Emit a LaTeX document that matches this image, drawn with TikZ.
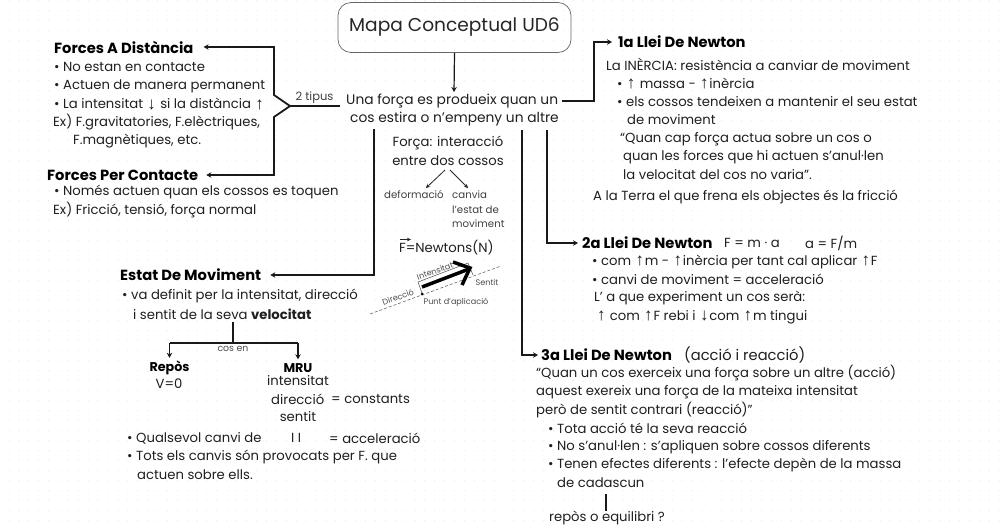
\documentclass[tikz,border=0pt]{standalone}
\usepackage{fontspec}
\setmainfont{Poppins}
\newfontfamily\arrowfont{Liberation Sans}
\usetikzlibrary{arrows.meta}
\newcommand{\up}{\kern0.8pt\smash{\raisebox{-0.5pt}{\arrowfont\fontsize{17}{15}\selectfont\char"2191}}\kern0.8pt}
\newcommand{\dn}{\kern0.8pt\smash{\raisebox{-0.5pt}{\arrowfont\fontsize{17}{15}\selectfont\char"2193}}\kern0.8pt}
\tikzset{
 txt/.style={anchor=west,inner sep=0pt,font=\fontsize{13.2}{15}\selectfont,text=black!88},
 ctr/.style={anchor=west,inner sep=0pt,font=\fontsize{13.8}{16}\selectfont,text=black!88},
 head/.style={anchor=west,inner sep=0pt,font=\fontsize{14.7}{17}\selectfont\bfseries,text=black},
 small/.style={anchor=west,inner sep=0pt,font=\fontsize{10.2}{12}\selectfont,text=black!75},
 tiny/.style={inner sep=0pt,font=\fontsize{8.1}{10}\selectfont,text=black!70},
 link/.style={draw=black!90,line width=1.5pt},
 arr/.style={link,-{Stealth[length=5pt,width=5.5pt]}},
}
\begin{document}
\begin{tikzpicture}[x=1pt,y=-1pt]
\useasboundingbox (0,0) rectangle (1000,525);
\fill[white] (0,0) rectangle (1000,525);
\foreach \i in {0,...,100}{\foreach \j in {0,...,52}{
 \fill[black!7] (\i*9.9+9,\j*10+0.7) circle (0.7pt);}}
% title
\node[draw=black!60,line width=0.7pt,rounded corners=13pt,minimum width=233pt,minimum height=50pt,font=\fontsize{18.6}{22}\selectfont,text=black!85,inner sep=0pt] (title) at (454.5,27.5) {Mapa Conceptual UD6};
% central
\node[ctr] (c1) at (346,101) {Una força es produeix quan un};
\node[ctr] (c2) at (350,119) {cos estira o n’empeny un altre};
\coordinate (t1) at (454,92);
\draw[arr,line width=1.2pt] (title.south) -- (t1);
% left
\node[head] (fd) at (54,47) {Forces A Distància};
\node[txt] (a1) at (54,67) {• No estan en contacte};
\node[txt] (a2) at (54,86) {• Actuen de manera permanent};
\node[txt,text height=9pt,text depth=3pt] (a3) at (54,105.5) {• La intensitat \dn{} si la distància \up};
\node[txt] (a4) at (53,122) {Ex) F.gravitatories, F.elèctriques,};
\node[txt] (a5) at (73,141) {F.magnètiques, etc.};
\node[head] (fc) at (47,175) {Forces Per Contacte};
\node[txt] (b1) at (54,192) {• Només actuen quan els cossos es toquen};
\node[txt] (b2) at (53,210) {Ex) Fricció, tensió, força normal};
\coordinate (fork) at (290,106);
\coordinate (ftop) at (274,95);
\coordinate (fbot) at (274,117);
\node[small,anchor=south,font=\fontsize{11.5}{13}\selectfont] (tip) at (314.5,103.5) {2 tipus};
\draw[link,line width=1.8pt] (c1.west |- fork) ++(-6,0) -- (fork);
\draw[arr,line width=1.8pt,shorten >=10pt] (fork) -- (ftop) -- (ftop |- fd.east) -- (fd.east);
\draw[arr,line width=1.8pt,shorten >=8pt] (fork) -- (fbot) -- (fbot |- fc.east) -- (fc.east);
% right 1
\node[head] (l1) at (618,42) {1a Llei De Newton};
\coordinate (r1) at (594,101);
\draw[arr,shorten <=4pt,shorten >=6pt] (c1.east) -- (c1.east -| r1) -- (r1 |- l1.west) -- (l1.west);
\node[txt] (n1) at (606,64) {La INÈRCIA: resistència a canviar de moviment};
\node[txt,text height=9pt,text depth=3pt] (n2) at (617,85) {• \up{} massa - \up{}inèrcia};
\node[txt] (n3) at (617,102) {• els cossos tendeixen a mantenir el seu estat};
\node[txt] (n4) at (627,120) {de moviment};
\node[txt] (n5) at (620,139) {“Quan cap força actua sobre un cos o};
\node[txt] (n6) at (623,157) {quan les forces que hi actuen s’anul·len};
\node[txt] (n7) at (623,175) {la velocitat del cos no varia”.};
\node[txt] (n8) at (593,197) {A la Terra el que frena els objectes és la fricció};
% middle
\node[txt,anchor=center] (m1) at (448,143) {Força: interacció};
\node[txt,anchor=center] (m2) at (448,161) {entre dos cossos};
\node[small] (def) at (384,195) {deformació};
\node[small] (can) at (452,195) {canvia};
\node[small] (can2) at (452,210) {l’estat de};
\node[small] (can3) at (452,224) {moviment};
\coordinate (fa) at (445,170);
\coordinate (fb) at (450,170);
\coordinate (fa2) at (426,188);
\coordinate (fb2) at (468,188);
\draw[black!85,line width=0.8pt,-{Stealth[length=4pt,width=4pt]}] (fa) -- (fa2);
\draw[black!85,line width=0.8pt,-{Stealth[length=4pt,width=4pt]}] (fb) -- (fb2);
\node[txt] (nw) at (399,248) {F=Newtons(N)};
\coordinate (v0) at (400,239.5);
\coordinate (v1) at (411,239.5);
\draw[black!85,line width=0.6pt,-{Stealth[length=4pt,width=3.5pt]}] (v0) -- (v1);
% force diagram
\draw[black!60,densely dashed,line width=0.6pt] (370,314) -- (501,266);
\draw[black!70,line width=0.5pt] (422,293) -- (418,282) -- (468,263) -- (473,275);
\draw[black,line width=3.5pt] (422,287) -- (469,269);
\draw[black,line width=3.5pt] (453,262) -- (470,268) -- (462,285);
\fill (422,294) circle (1.5pt);
\node[tiny,rotate=20] (dia1) at (435,271) {Intensitat};
\node[tiny,rotate=20] (dia2) at (398,297) {Direcció};
\node[tiny] (dia3) at (487,282) {Sentit};
\node[tiny] (dia4) at (456,302) {Punt d’aplicació};
% stat
\node[head] (em) at (120,275) {Estat De Moviment};
\coordinate (r0) at (374,129);
\draw[arr,shorten >=9pt] (r0) -- (r0 |- em.east) -- (em.east);
\node[txt] (e1) at (122,296) {• va definit per la intensitat, direcció};
\node[txt] (e2) at (133,314) {i sentit de la seva \textbf{velocitat}};
\node[head,anchor=center,font=\fontsize{12.7}{14}\selectfont\bfseries] (rep) at (169.5,368) {Repòs};
\node[txt,anchor=center] (rep2) at (169,384) {V=0};
\node[head,anchor=center,font=\fontsize{12.7}{14}\selectfont\bfseries] (mru) at (298,368) {MRU};
\coordinate (s0) at (233,322);
\coordinate (s1) at (233,343);
\draw[link] (s0) -- (s1);
\draw[arr,line width=1.3pt,shorten >=3pt] (rep.north |- 0,343) -- (rep.north);
\draw[arr,line width=1.3pt,shorten >=4pt] (mru.north |- 0,343) -- (mru.north);
\draw[link,line width=1.3pt] (rep.north |- 0,343) -- (mru.north |- 0,343);
\node[tiny,font=\fontsize{9.4}{11}\selectfont] (cs) at (233,349) {cos en};
\node[txt,anchor=center] (m3) at (298,381) {intensitat};
\node[txt] (m4) at (271,399) {direcció};
\node[txt] (m5) at (331,399) {= constants};
\node[txt,anchor=center] (m6) at (298,417) {sentit};
\node[txt] (q1) at (127,438) {• Qualsevol canvi de};
\node[txt] (q2) at (291,438) {I I};
\node[txt] (q3) at (329,438) {= acceleració};
\node[txt] (q4) at (127,457) {• Tots els canvis són provocats per F. que};
\node[txt] (q5) at (137,475) {actuen sobre ells.};
% right 2
\node[head] (l2) at (582,243) {2a Llei De Newton};
\coordinate (r2) at (547,130);
\draw[arr,shorten >=4pt] (r2) -- (r2 |- l2.west) -- (l2.west);
\node[txt] (f1) at (724,243) {F = m · a};
\node[txt] (f2) at (805,243) {a = F/m};
\node[txt,text height=9pt,text depth=3pt] (o1) at (592,262) {• com \up{}m - \up{}inèrcia per tant cal aplicar \up{}F};
\node[txt] (o2) at (592,279) {• canvi de moviment = acceleració};
\node[txt] (o3) at (594,298) {L’ a que experiment un cos serà:};
\node[txt,text height=9pt,text depth=3pt] (o4) at (596,317) {\up{} com \up{}F rebi i \dn{}com \up{}m tingui};
% right 3
\node[head] (l3) at (541,355) {3a Llei De Newton};
\coordinate (r3) at (522,130);
\draw[arr,shorten >=3pt] (r3) -- (r3 |- l3.west) -- (l3.west);
\node[txt,font=\fontsize{14.7}{17}\selectfont] (p0) at (684,355) {(acció i reacció)};
\node[txt] (p1) at (536,373) {“Quan un cos exerceix una força sobre un altre (acció)};
\node[txt] (p2) at (536,392) {aquest exereix una força de la mateixa intensitat};
\node[txt] (p3) at (536,410) {però de sentit contrari (reacció)”};
\node[txt] (p4) at (548,428) {• Tota acció té la seva reacció};
\node[txt] (p5) at (548,447) {• No s’anul·len : s’apliquen sobre cossos diferents};
\node[txt] (p6) at (548,465) {• Tenen efectes diferents : l’efecte depèn de la massa};
\node[txt] (p7) at (557,483) {de cadascun};
\node[txt] (q) at (549,518) {repòs o equilibri ?};
\coordinate (q0) at (606,494);
\coordinate (q9) at (606,511);
\draw[link] (q0) -- (q9);
\end{tikzpicture}
\end{document}
